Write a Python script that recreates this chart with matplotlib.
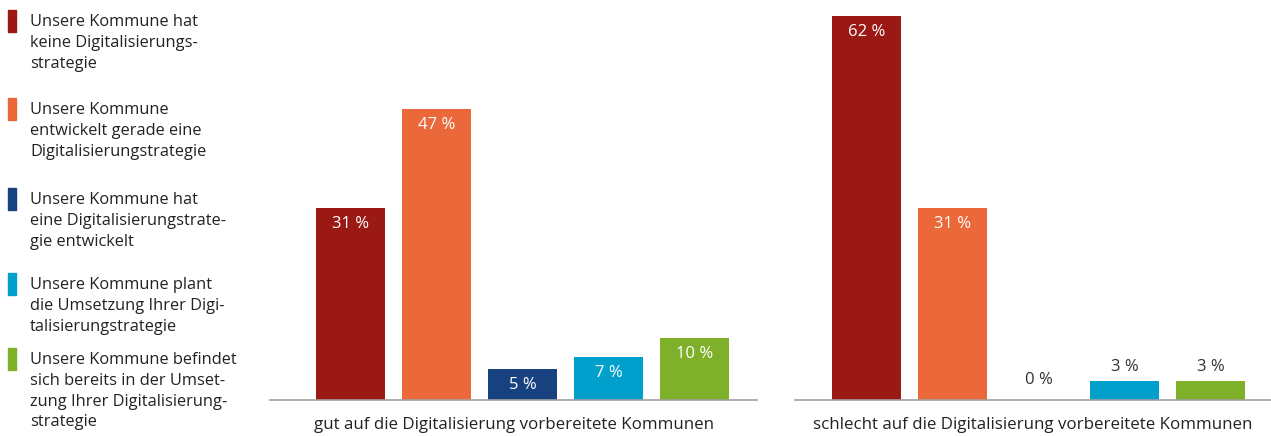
import matplotlib
matplotlib.use("Agg")
import matplotlib.pyplot as plt
from matplotlib.patches import Rectangle

plt.rcParams['font.family'] = ['Open Sans', 'DejaVu Sans']

# data
groups = ['gut auf die Digitalisierung vorbereitete Kommunen',
          'schlecht auf die Digitalisierung vorbereitete Kommunen']
legend_labels = [
    'Unsere Kommune hat\nkeine Digitalisierungs-\nstrategie',
    'Unsere Kommune\nentwickelt gerade eine\nDigitalisierungstrategie',
    'Unsere Kommune hat\neine Digitalisierungstrate-\ngie entwickelt',
    'Unsere Kommune plant\ndie Umsetzung Ihrer Digi-\ntalisierungstrategie',
    'Unsere Kommune befindet\nsich bereits in der Umset-\nzung Ihrer Digitalisierung-\nstrategie',
]
gut = [31, 47, 5, 7, 10]
schlecht = [62, 31, 0, 3, 3]
colors = ['#9b1915', '#ea6839', '#18427f', '#009fcc', '#7fb02a']

W, H = 1271, 436
fig = plt.figure(figsize=(W / 100, H / 100), dpi=100)


def px_rect(x0, x1, y_top, y_bot):
    return [x0 / W, 1 - y_bot / H, (x1 - x0) / W, (y_bot - y_top) / H]


ymax = 400 / 6.2
panels = [
    (groups[0], gut, px_rect(270, 757, 0, 400), (-0.936, 4.727)),
    (groups[1], schlecht, px_rect(795, 1271, 0, 400), (-0.831, 4.703)),
]

for title, vals, rect, xl in panels:
    ax = fig.add_axes(rect)
    xs = range(len(vals))
    ax.bar(xs, vals, width=0.8, color=colors)
    for x, v in zip(xs, vals):
        if v >= 5:
            ax.annotate(f'{v} %', (x, v), xytext=(0, -16), textcoords='offset pixels',
                        ha='center', va='center', color='white', fontsize=12)
        else:
            ax.annotate(f'{v} %', (x, v), xytext=(0, 14 if v > 0 else 20),
                        textcoords='offset pixels',
                        ha='center', va='center', color='#333333', fontsize=12)
    ax.set_xlim(*xl)
    ax.set_ylim(0, ymax)
    for s in ['top', 'right', 'left']:
        ax.spines[s].set_visible(False)
    ax.spines['bottom'].set_color('#a0a0a0')
    ax.spines['bottom'].set_linewidth(1.2)
    ax.set_xticks([])
    ax.set_yticks([])
    ax.set_xlabel(title, fontsize=12.2, color='#222222', labelpad=12.5)

# legend drawn by hand
entry_tops = [10, 98, 188, 273, 348]
for lab, c, top in zip(legend_labels, colors, entry_tops):
    fig.patches.append(Rectangle((8 / W, 1 - (top + 22) / H), 8 / W, 22 / H,
                                 transform=fig.transFigure, color=c))
    fig.text(30 / W, 1 - (top + 4) / H, lab, ha='left', va='top',
             fontsize=11.8, color='#222222', linespacing=1.4)

fig.savefig('out.png', dpi=100)
